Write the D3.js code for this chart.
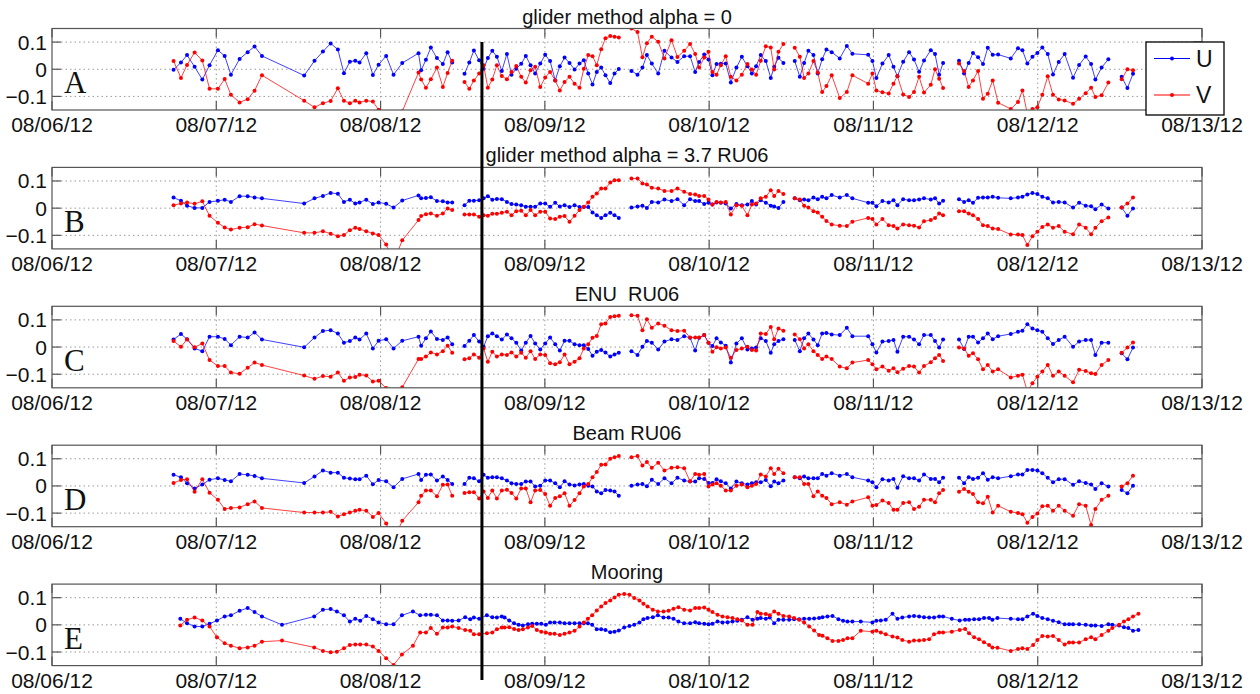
<!DOCTYPE html>
<html>
<head>
<meta charset="utf-8">
<script src="https://cdn.jsdelivr.net/npm/d3@7"></script>
<style>
  body { margin: 0; background: #fff; }
  text { font-family: "Liberation Sans", Arial, sans-serif; fill: #111; }
</style>
</head>
<body>
<div id="chart"></div>
<script>
// glider profile times, day of August 2012 (null = gap in the record)
var gliderDays = [
  6.740, 6.785, 6.822, 6.868, 6.915, 6.959, 7.010, 7.051, 7.089, 7.142, 7.191, 7.233, 7.278, 7.535, 7.598, 7.649, 7.696, 7.740,
  7.777, 7.813, 7.846, 7.872, 7.913, 7.953, 7.988, 8.034, 8.079, 8.132, 8.231, 8.247, 8.276, 8.306, 8.343, 8.379, 8.408, 8.436, null,
  8.511, 8.540, 8.568, 8.600, 8.627, 8.653, 8.680, 8.708, 8.738, 8.769, 8.797, 8.826, 8.856, 8.884, 8.913, 8.941, 8.972,
  9.002, 9.032, 9.063, 9.091, 9.120, 9.150, 9.181, 9.211, 9.237, 9.264, 9.290, 9.316, 9.343, 9.369, 9.398, 9.424, 9.450, null,
  9.527, 9.564, 9.594, 9.621, 9.651, 9.690, 9.728, 9.771, 9.807, 9.848, 9.884, 9.915, 9.939, 9.970, 9.996, 10.020,
  10.045, 10.071, 10.101, 10.132, 10.166, 10.199, 10.233, 10.260, 10.286, 10.314, 10.345, 10.375, 10.396, 10.422, 10.452, null,
  10.521, 10.552, 10.578, 10.604, 10.635, 10.661, 10.688, 10.714, 10.746, 10.795, 10.838, 10.872, 10.968, 10.994,
  11.018, 11.055, 11.093, 11.122, 11.146, 11.181, 11.217, 11.247, 11.278, 11.308, 11.349, 11.375, 11.400, 11.424, null,
  11.521, 11.552, 11.580, 11.606, 11.637, 11.667, 11.696, 11.726, 11.759, 11.836, 11.880, 11.907, 11.937, 11.968,
  11.998, 12.028, 12.061, 12.093, 12.128, 12.164, 12.215, 12.252, 12.292, 12.325, 12.351, 12.389, 12.430, null,
  12.511, 12.546, 12.580
];

var uAlpha0 = [
  -0.002, 0.025, 0.052, 0.009, -0.038, 0.015, 0.070, 0.049, -0.020, 0.038, 0.063, 0.084, 0.049, -0.023, 0.031, 0.065, 0.095, 0.073,
  -0.015, 0.028, 0.031, 0.025, 0.059, -0.021, 0.017, 0.049, -0.020, 0.023, 0.059, -0.004, 0.035, 0.080, 0.041, 0.019, 0.063, 0.025, null,
  -0.017, 0.025, 0.069, 0.033, 0.002, 0.041, 0.068, 0.046, -0.006, 0.056, -0.020, 0.002, 0.020, 0.049, 0.015, -0.016, 0.021,
  0.053, 0.030, -0.041, 0.011, 0.043, 0.023, -0.001, 0.021, 0.033, -0.016, -0.056, -0.010, 0.006, -0.022, -0.051, -0.016, 0.001, null,
  -0.006, -0.020, 0.006, 0.052, 0.021, -0.016, 0.068, 0.043, 0.027, 0.048, 0.048, -0.010, 0.027, 0.054, 0.036, -0.022,
  0.019, 0.020, 0.021, -0.049, 0.006, 0.046, 0.011, -0.016, 0.011, 0.052, 0.030, -0.032, 0.009, 0.042, 0.023, null,
  0.030, -0.028, 0.023, 0.068, 0.052, -0.016, 0.037, 0.073, 0.063, 0.040, 0.086, 0.057, 0.053, 0.030,
  -0.032, 0.021, 0.052, 0.009, -0.026, 0.028, 0.063, 0.036, -0.009, 0.032, 0.070, 0.056, -0.020, 0.023, null,
  0.031, -0.016, 0.023, 0.060, 0.044, 0.019, 0.079, 0.053, 0.054, 0.040, 0.077, 0.070, 0.021, 0.046,
  0.060, 0.080, 0.056, -0.019, 0.027, 0.056, -0.031, 0.016, 0.047, 0.019, -0.038, 0.006, 0.037, null,
  -0.028, -0.069, -0.017
];
var vAlpha0 = [
  0.030, -0.032, 0.016, 0.062, 0.032, -0.072, -0.072, -0.036, -0.094, -0.122, -0.110, -0.079, -0.022, -0.116, -0.140, -0.125, -0.117, -0.070,
  -0.116, -0.125, -0.116, -0.122, -0.116, -0.119, -0.149, -0.300, -0.300, -0.155, -0.012, -0.038, -0.068, -0.037, 0.006, -0.065, -0.014, 0.031, null,
  -0.047, -0.072, -0.041, -0.016, 0.015, -0.068, -0.038, 0.015, -0.025, -0.037, -0.010, 0.012, -0.028, -0.049, -0.004, 0.009, -0.065,
  -0.030, -0.010, -0.041, -0.078, -0.047, -0.028, -0.053, -0.068, 0.002, 0.052, 0.048, 0.015, 0.074, 0.114, 0.122, 0.120, 0.117, null,
  0.150, 0.137, 0.044, 0.096, 0.120, 0.101, 0.040, 0.107, 0.045, 0.068, 0.093, 0.056, 0.006, 0.043, 0.064, -0.010,
  -0.020, 0.015, 0.048, -0.028, -0.041, -0.020, 0.019, -0.001, -0.020, 0.031, 0.085, 0.080, -0.001, 0.064, 0.093, null,
  0.079, 0.046, -0.032, -0.016, 0.030, -0.012, -0.084, -0.062, -0.022, -0.106, -0.084, -0.022, -0.053, -0.016,
  -0.078, -0.085, -0.089, -0.053, -0.025, -0.093, -0.102, -0.084, -0.028, -0.086, -0.057, 0.000, -0.035, -0.069, null,
  0.021, -0.006, -0.065, -0.041, -0.006, -0.109, -0.090, -0.041, -0.123, -0.146, -0.121, -0.078, -0.164, -0.146,
  -0.140, -0.094, -0.026, -0.094, -0.111, -0.115, -0.127, -0.109, -0.088, -0.068, -0.102, -0.096, -0.049, null,
  -0.037, 0.000, -0.004
];

var uAlpha37 = [
  0.039, 0.027, 0.009, 0.001, 0.001, 0.023, 0.027, 0.031, 0.023, 0.044, 0.044, 0.039, 0.036, 0.017, 0.036, 0.045, 0.056, 0.053,
  0.023, 0.031, 0.017, 0.021, 0.031, 0.015, 0.021, 0.016, 0.002, 0.028, 0.047, 0.036, 0.037, 0.040, 0.026, 0.025, 0.021, 0.021, null,
  0.011, 0.027, 0.027, 0.029, 0.036, 0.044, 0.031, 0.034, 0.033, 0.023, 0.015, 0.013, 0.011, 0.005, 0.005, 0.005, 0.017,
  0.017, 0.005, 0.020, 0.006, 0.011, 0.004, 0.011, 0.004, 0.004, 0.004, -0.016, -0.026, -0.036, -0.026, -0.017, -0.026, -0.036, null,
  0.002, 0.006, 0.009, 0.001, 0.023, 0.021, 0.032, 0.026, 0.033, 0.011, 0.033, 0.026, 0.026, 0.015, 0.020, 0.013,
  0.021, 0.020, 0.017, -0.001, 0.015, 0.011, 0.013, 0.026, 0.013, 0.029, 0.020, 0.009, 0.006, 0.001, 0.023, null,
  0.036, 0.029, 0.032, 0.029, 0.039, 0.033, 0.042, 0.036, 0.048, 0.039, 0.048, 0.036, 0.020, 0.020,
  0.007, 0.026, 0.021, 0.029, 0.011, 0.033, 0.029, 0.029, 0.032, 0.036, 0.032, 0.036, 0.017, 0.027, null,
  0.033, 0.023, 0.029, 0.020, 0.038, 0.039, 0.039, 0.042, 0.038, 0.036, 0.039, 0.042, 0.050, 0.056,
  0.052, 0.042, 0.036, 0.021, 0.023, 0.021, 0.002, 0.020, 0.009, 0.007, -0.004, 0.013, -0.001, null,
  0.002, -0.028, -0.001
];
var vAlpha37 = [
  0.011, 0.017, 0.021, 0.016, 0.025, -0.028, -0.054, -0.071, -0.079, -0.072, -0.070, -0.059, -0.064, -0.091, -0.091, -0.085, -0.094, -0.103,
  -0.099, -0.081, -0.072, -0.077, -0.085, -0.093, -0.099, -0.134, -0.200, -0.118, -0.044, -0.029, -0.022, -0.020, -0.028, -0.020, -0.001, -0.007, null,
  -0.023, -0.023, -0.023, -0.032, -0.026, -0.028, -0.021, -0.021, -0.017, -0.013, -0.026, -0.011, -0.010, -0.026, -0.007, -0.026, -0.013,
  -0.013, -0.038, -0.040, -0.032, -0.029, -0.050, -0.028, -0.007, 0.005, 0.021, 0.042, 0.054, 0.072, 0.072, 0.094, 0.103, 0.103, null,
  0.109, 0.109, 0.091, 0.087, 0.075, 0.072, 0.063, 0.063, 0.072, 0.060, 0.052, 0.050, 0.045, 0.045, 0.032, 0.013,
  0.023, 0.021, 0.023, -0.023, 0.011, 0.009, -0.026, 0.013, 0.017, 0.036, 0.042, 0.066, 0.045, 0.063, 0.052, null,
  0.036, 0.032, 0.009, 0.002, -0.011, -0.016, -0.032, -0.047, -0.060, -0.065, -0.066, -0.050, -0.036, -0.040,
  -0.060, -0.040, -0.063, -0.066, -0.075, -0.060, -0.063, -0.065, -0.071, -0.048, -0.044, -0.036, -0.020, -0.026, null,
  -0.011, -0.011, -0.020, -0.026, -0.040, -0.063, -0.066, -0.075, -0.077, -0.097, -0.097, -0.099, -0.136, -0.103,
  -0.087, -0.069, -0.060, -0.072, -0.066, -0.087, -0.096, -0.060, -0.072, -0.096, -0.072, -0.048, -0.034, null,
  0.002, 0.017, 0.039
];

var uEnu = [
  0.028, 0.048, 0.029, -0.005, -0.015, 0.038, 0.038, 0.030, 0.007, 0.038, 0.035, 0.054, 0.028, -0.001, 0.035, 0.059, 0.062, 0.050,
  0.016, 0.022, 0.035, 0.028, 0.050, -0.005, 0.023, 0.029, -0.005, 0.023, 0.038, 0.005, 0.032, 0.057, 0.030, 0.026, 0.035, 0.010, null,
  0.004, 0.023, 0.044, 0.020, 0.001, 0.040, 0.050, 0.040, 0.028, 0.046, 0.032, 0.016, -0.013, 0.016, 0.041, 0.013, -0.009,
  0.013, 0.035, 0.010, -0.013, 0.023, 0.023, 0.010, 0.007, 0.007, -0.007, -0.032, -0.017, -0.011, -0.020, -0.035, -0.027, -0.021, null,
  -0.015, -0.029, 0.001, 0.022, 0.016, -0.009, 0.020, 0.029, 0.026, 0.040, 0.034, -0.013, 0.034, 0.044, 0.016, 0.004,
  0.032, 0.017, 0.005, -0.057, 0.013, 0.032, -0.009, -0.005, -0.002, 0.032, 0.022, -0.021, 0.010, 0.022, 0.029, null,
  0.026, -0.015, 0.032, 0.050, 0.028, 0.007, 0.050, 0.052, 0.046, 0.044, 0.071, 0.040, 0.040, 0.010,
  -0.020, 0.020, 0.022, 0.026, -0.017, 0.038, 0.038, 0.028, 0.010, 0.044, 0.044, 0.022, -0.002, 0.028, null,
  0.028, -0.007, 0.038, 0.038, 0.017, 0.032, 0.050, 0.029, 0.040, 0.048, 0.056, 0.060, 0.084, 0.068,
  0.062, 0.056, 0.032, 0.011, 0.026, 0.038, 0.001, 0.020, 0.026, 0.026, -0.029, 0.016, 0.016, null,
  -0.023, -0.045, -0.002
];
var vEnu = [
  0.022, 0.001, 0.028, -0.001, 0.013, -0.048, -0.070, -0.070, -0.094, -0.098, -0.076, -0.057, -0.066, -0.105, -0.117, -0.107, -0.109, -0.094,
  -0.124, -0.112, -0.110, -0.102, -0.105, -0.127, -0.124, -0.151, -0.220, -0.148, -0.044, -0.044, -0.035, -0.020, -0.027, -0.015, 0.005, -0.021, null,
  -0.045, -0.041, -0.027, -0.039, -0.005, -0.054, -0.017, -0.035, -0.027, -0.029, -0.020, -0.035, -0.021, -0.039, -0.015, -0.044, -0.027,
  -0.029, -0.060, -0.063, -0.056, -0.027, -0.063, -0.054, -0.041, -0.005, 0.010, 0.034, 0.041, 0.084, 0.087, 0.111, 0.113, 0.115, null,
  0.117, 0.115, 0.062, 0.102, 0.071, 0.087, 0.078, 0.062, 0.059, 0.060, 0.035, 0.035, 0.035, 0.044, 0.016, -0.017,
  -0.001, -0.005, -0.002, -0.039, -0.011, -0.005, 0.001, -0.011, -0.013, 0.050, 0.048, 0.074, 0.029, 0.068, 0.060, null,
  0.046, 0.029, -0.005, 0.010, -0.015, -0.029, -0.044, -0.035, -0.044, -0.072, -0.078, -0.057, -0.048, -0.063,
  -0.082, -0.072, -0.087, -0.078, -0.093, -0.080, -0.070, -0.072, -0.094, -0.070, -0.056, -0.041, -0.029, -0.051, null,
  -0.002, -0.005, -0.032, -0.023, -0.045, -0.082, -0.066, -0.090, -0.082, -0.112, -0.106, -0.102, -0.163, -0.133,
  -0.109, -0.090, -0.066, -0.106, -0.090, -0.106, -0.130, -0.084, -0.088, -0.096, -0.099, -0.066, -0.048, null,
  -0.021, -0.002, 0.017
];

var uBeam = [
  0.041, 0.032, 0.010, -0.009, 0.005, 0.023, 0.028, 0.022, 0.017, 0.044, 0.041, 0.037, 0.028, 0.011, 0.035, 0.057, 0.049, 0.049,
  0.030, 0.027, 0.025, 0.025, 0.038, 0.006, 0.022, 0.017, -0.005, 0.026, 0.044, 0.022, 0.041, 0.042, 0.020, 0.035, 0.022, 0.007, null,
  0.007, 0.030, 0.028, 0.017, 0.041, 0.030, 0.032, 0.032, 0.028, 0.020, 0.010, 0.007, 0.007, 0.016, 0.016, -0.002, 0.001,
  0.020, 0.020, 0.010, -0.005, 0.017, 0.005, 0.002, 0.005, 0.007, 0.001, -0.002, -0.020, -0.027, -0.015, -0.017, -0.020, -0.036, null,
  0.001, 0.005, 0.007, -0.001, 0.023, 0.007, 0.028, 0.010, 0.030, 0.020, 0.016, 0.016, 0.028, 0.026, 0.011, 0.011,
  0.025, 0.017, 0.010, -0.009, 0.016, 0.010, 0.005, 0.010, 0.014, 0.014, 0.022, -0.001, 0.016, 0.010, 0.020, null,
  0.032, 0.028, 0.035, 0.028, 0.028, 0.028, 0.044, 0.038, 0.047, 0.038, 0.044, 0.032, 0.020, 0.014,
  -0.005, 0.025, 0.020, 0.026, -0.007, 0.036, 0.028, 0.028, 0.020, 0.042, 0.026, 0.026, 0.014, 0.030, null,
  0.030, 0.010, 0.032, 0.026, 0.030, 0.047, 0.023, 0.032, 0.028, 0.036, 0.042, 0.042, 0.059, 0.059,
  0.057, 0.047, 0.030, 0.014, 0.025, 0.025, 0.004, 0.017, 0.011, 0.005, -0.011, 0.010, -0.002, null,
  -0.015, -0.027, 0.001
];
var vBeam = [
  0.011, 0.022, 0.025, -0.021, 0.025, -0.025, -0.051, -0.085, -0.081, -0.079, -0.067, -0.057, -0.081, -0.098, -0.098, -0.098, -0.095, -0.112,
  -0.104, -0.098, -0.091, -0.088, -0.091, -0.114, -0.100, -0.138, -0.200, -0.128, -0.060, -0.036, -0.017, -0.017, -0.038, 0.004, 0.005, -0.036, null,
  -0.026, -0.023, -0.023, -0.046, -0.020, -0.044, -0.017, -0.046, -0.017, -0.014, -0.026, -0.046, -0.009, -0.009, -0.060, -0.017, -0.015,
  -0.030, -0.073, -0.044, -0.038, -0.027, -0.073, -0.052, -0.027, -0.002, 0.007, 0.032, 0.051, 0.078, 0.079, 0.100, 0.106, 0.110, null,
  0.106, 0.110, 0.075, 0.088, 0.067, 0.085, 0.057, 0.067, 0.069, 0.065, 0.017, 0.044, 0.041, 0.044, -0.002, 0.005,
  0.010, 0.001, -0.017, -0.017, 0.001, 0.005, -0.005, 0.001, 0.007, 0.042, 0.035, 0.065, 0.044, 0.063, 0.047, null,
  0.032, 0.032, 0.007, 0.007, -0.038, -0.020, -0.036, -0.044, -0.067, -0.060, -0.069, -0.057, -0.042, -0.073,
  -0.070, -0.054, -0.063, -0.088, -0.088, -0.063, -0.060, -0.085, -0.077, -0.051, -0.051, -0.060, -0.027, -0.015, null,
  -0.021, -0.011, -0.021, -0.030, -0.060, -0.064, -0.040, -0.098, -0.073, -0.095, -0.100, -0.104, -0.135, -0.114,
  -0.101, -0.075, -0.073, -0.091, -0.073, -0.091, -0.110, -0.067, -0.073, -0.144, -0.085, -0.051, -0.036, null,
  -0.002, 0.010, 0.038
];

// mooring record times, day of August 2012
var mooringDays = [
  6.781, 6.822, 6.868, 6.915, 6.959, 7.004, 7.051, 7.089, 7.142, 7.191, 7.233, 7.278, 7.400,
  7.596, 7.649, 7.696, 7.734, 7.777, 7.813, 7.846, 7.876, 7.913, 7.953, 7.988, 8.034, 8.079,
  8.130, 8.197, 8.241, 8.276, 8.306, 8.343, 8.379, 8.408, 8.436, 8.475,
  8.515, 8.546, 8.568, 8.600, 8.647, 8.680, 8.708, 8.738, 8.755, 8.783,
  8.813, 8.840, 8.866, 8.897, 8.923, 8.951, 8.978, 9.006, 9.032, 9.059,
  9.091, 9.120, 9.150, 9.181, 9.211, 9.237, 9.262, 9.288, 9.316, 9.343,
  9.369, 9.398, 9.424, 9.450, 9.483, 9.515, 9.544, 9.576, 9.600, 9.625,
  9.657, 9.688, 9.722, 9.753, 9.783, 9.813,
  9.848, 9.884, 9.915, 9.939, 9.970, 9.996, 10.020, 10.051, 10.081, 10.112,
  10.142, 10.172, 10.199, 10.233, 10.264, 10.294, 10.314, 10.345, 10.369, 10.396,
  10.422, 10.452, 10.487, 10.517, 10.548, 10.578, 10.609, 10.639, 10.669, 10.690,
  10.720, 10.751, 10.787, 10.815, 10.842, 10.872, 10.923, 10.994, 11.018, 11.045,
  11.075, 11.116, 11.146, 11.176, 11.217, 11.247, 11.278, 11.308, 11.339, 11.369,
  11.400, 11.424, 11.477, 11.525, 11.558, 11.582, 11.613, 11.643, 11.673, 11.704,
  11.724, 11.755, 11.836, 11.880, 11.907, 11.937, 11.972, 11.998, 12.028, 12.061,
  12.093, 12.128, 12.164, 12.191, 12.215, 12.252, 12.292, 12.325, 12.351, 12.389,
  12.430, 12.454, 12.495, 12.525, 12.552, 12.580, 12.613
];
var uMooring = [
  0.022, 0.006, -0.006, -0.006, 0.004, 0.016, 0.031, 0.035, 0.052, 0.062, 0.047, 0.031, 0.000,
  0.031, 0.056, 0.058, 0.049, 0.035, 0.012, 0.022, 0.015, 0.033, 0.021, 0.009, 0.002, 0.002,
  0.035, 0.049, 0.035, 0.037, 0.037, 0.035, 0.016, 0.016, 0.015, 0.016,
  0.028, 0.021, 0.027, 0.022, 0.035, 0.028, 0.027, 0.031, 0.027, 0.016,
  0.006, 0.000, -0.002, 0.002, 0.004, 0.004, 0.004, 0.000, 0.009, 0.009,
  0.009, 0.006, 0.006, 0.006, 0.006, 0.006, 0.006, 0.000, -0.016, -0.016,
  -0.019, -0.027, -0.025, -0.021, -0.010, -0.004, 0.000, 0.009, 0.021, 0.025,
  0.028, 0.035, 0.027, 0.027, 0.022, 0.012,
  0.006, 0.006, 0.010, 0.006, 0.004, 0.002, 0.004, 0.012, 0.009, 0.010,
  0.012, 0.015, 0.019, 0.028, 0.019, 0.022, 0.025, 0.022, 0.027, 0.006,
  0.019, 0.019, 0.019, 0.021, 0.021, 0.022, 0.022, 0.023, 0.025, 0.028,
  0.031, 0.033, 0.021, 0.015, 0.012, 0.012, 0.012, 0.009, 0.015, 0.016,
  0.019, 0.041, 0.022, 0.027, 0.031, 0.033, 0.031, 0.028, 0.027, 0.027,
  0.031, 0.031, 0.022, 0.016, 0.019, 0.019, 0.021, 0.021, 0.025, 0.025,
  0.019, 0.025, 0.022, 0.021, 0.021, 0.031, 0.041, 0.033, 0.025, 0.021,
  0.015, 0.010, 0.002, 0.002, 0.002, 0.002, 0.000, -0.002, -0.002, -0.004,
  0.002, 0.000, -0.002, -0.009, -0.012, -0.022, -0.019
];
var vMooring = [
  -0.002, 0.019, 0.027, 0.016, -0.006, -0.046, -0.068, -0.077, -0.086, -0.083, -0.077, -0.062, -0.058,
  -0.083, -0.096, -0.101, -0.099, -0.086, -0.074, -0.072, -0.072, -0.072, -0.080, -0.096, -0.123, -0.148,
  -0.109, -0.077, -0.028, -0.028, -0.012, -0.033, -0.010, -0.010, -0.006, -0.012,
  -0.019, -0.022, -0.035, -0.035, -0.031, -0.028, -0.016, -0.010, -0.010, -0.009,
  -0.015, -0.019, -0.016, -0.010, -0.004, -0.019, -0.025, -0.028, -0.033, -0.033,
  -0.037, -0.033, -0.028, -0.022, -0.006, 0.009, 0.022, 0.035, 0.053, 0.068,
  0.080, 0.090, 0.101, 0.111, 0.114, 0.111, 0.099, 0.090, 0.078, 0.068,
  0.056, 0.049, 0.049, 0.052, 0.059, 0.065,
  0.056, 0.053, 0.062, 0.062, 0.064, 0.056, 0.047, 0.037, 0.031, 0.028,
  0.025, 0.021, 0.016, 0.000, 0.000, 0.047, 0.041, 0.040, 0.035, 0.049,
  0.041, 0.033, 0.031, 0.025, 0.019, 0.009, -0.006, -0.021, -0.037, -0.040,
  -0.049, -0.059, -0.059, -0.056, -0.049, -0.049, -0.022, -0.025, -0.022, -0.028,
  -0.035, -0.043, -0.047, -0.056, -0.062, -0.058, -0.058, -0.056, -0.053, -0.035,
  -0.028, -0.028, -0.025, -0.019, -0.015, -0.031, -0.046, -0.053, -0.064, -0.074,
  -0.083, -0.084, -0.096, -0.089, -0.086, -0.089, -0.074, -0.056, -0.041, -0.043,
  -0.041, -0.056, -0.072, -0.065, -0.065, -0.065, -0.053, -0.046, -0.053, -0.037,
  -0.022, -0.012, 0.000, 0.012, 0.021, 0.031, 0.041
];

var panelTitles = ["glider method alpha = 0", "glider method alpha = 3.7 RU06", "ENU  RU06", "Beam RU06", "Mooring"];
var panelLetters = ["A", "B", "C", "D", "E"];
var yTicks = [-0.1, 0, 0.1];
var seriesNames = ["U", "V"];
var markDay = 8.617;   // heavy vertical marker across all panels

var panels = [
  { days: gliderDays, u: uAlpha0, v: vAlpha0 },
  { days: gliderDays, u: uAlpha37, v: vAlpha37 },
  { days: gliderDays, u: uEnu, v: vEnu },
  { days: gliderDays, u: uBeam, v: vBeam },
  { days: mooringDays, u: uMooring, v: vMooring }
];

var W = 1260, H = 694;
var left = 52, right = 1202, firstTop = 28.5, panelStep = 138.9, panelH = 81.5;
var colors = { U: "#0000ff", V: "#ff0000" };

function toDate(d) {
  return new Date(new Date(2012, 7, 1).getTime() + (d - 1) * 864e5);
}

var svg = d3.select("#chart").append("svg")
  .attr("width", W).attr("height", H)
  .style("display", "block");

var x = d3.scaleTime()
  .domain([toDate(6), toDate(13)])
  .range([left, right]);
var xTicks = x.ticks(d3.timeDay.every(1));
var fmt = d3.timeFormat("%m/%d/%y");

panels.forEach(function(p, i) {
  var top = firstTop + i * panelStep;
  var bottom = top + panelH;
  var y = d3.scaleLinear().domain([-0.15, 0.15]).range([bottom, top]);
  var g = svg.append("g").attr("class", "panel");

  g.append("clipPath").attr("id", "clip" + i)
    .append("rect").attr("x", left).attr("y", top)
    .attr("width", right - left).attr("height", panelH);

  // dotted grid
  g.selectAll(".hgrid").data(yTicks).enter().append("line")
    .attr("x1", left).attr("x2", right)
    .attr("y1", function(d) { return y(d); }).attr("y2", function(d) { return y(d); })
    .attr("stroke", "#9a9a9a").attr("stroke-width", 1).attr("stroke-dasharray", "1.5,3");
  g.selectAll(".vgrid").data(xTicks.slice(1, -1)).enter().append("line")
    .attr("x1", function(d) { return x(d); }).attr("x2", function(d) { return x(d); })
    .attr("y1", top).attr("y2", bottom)
    .attr("stroke", "#9a9a9a").attr("stroke-width", 1).attr("stroke-dasharray", "1.5,3");

  // inward ticks
  xTicks.forEach(function(t) {
    g.append("line").attr("x1", x(t)).attr("x2", x(t)).attr("y1", bottom).attr("y2", bottom - 9)
      .attr("stroke", "#555").attr("stroke-width", 1.2);
    g.append("line").attr("x1", x(t)).attr("x2", x(t)).attr("y1", top).attr("y2", top + 9)
      .attr("stroke", "#555").attr("stroke-width", 1.2);
  });
  yTicks.forEach(function(t) {
    g.append("line").attr("x1", left).attr("x2", left + 9).attr("y1", y(t)).attr("y2", y(t))
      .attr("stroke", "#555").attr("stroke-width", 1.2);
    g.append("line").attr("x1", right).attr("x2", right - 9).attr("y1", y(t)).attr("y2", y(t))
      .attr("stroke", "#555").attr("stroke-width", 1.2);
  });

  // series
  seriesNames.forEach(function(name) {
    var vals = name === "U" ? p.u : p.v;
    var pts = p.days.map(function(d, k) {
      return { t: d == null ? null : toDate(d), v: vals[k] };
    });
    var line = d3.line()
      .defined(function(d) { return d.t != null && d.v != null; })
      .x(function(d) { return x(d.t); })
      .y(function(d) { return y(d.v); });
    var sg = g.append("g").attr("clip-path", "url(#clip" + i + ")");
    sg.append("path")
      .attr("d", line(pts))
      .attr("fill", "none")
      .attr("stroke", colors[name])
      .attr("stroke-opacity", 0.75)
      .attr("stroke-width", 1);
    sg.selectAll("circle")
      .data(pts.filter(function(d) { return d.t != null && d.v != null; }))
      .enter().append("circle")
      .attr("cx", function(d) { return x(d.t); })
      .attr("cy", function(d) { return y(d.v); })
      .attr("r", 2)
      .attr("fill", colors[name]);
  });

  // box
  g.append("rect").attr("x", left).attr("y", top)
    .attr("width", right - left).attr("height", panelH)
    .attr("fill", "none").attr("stroke", "#555").attr("stroke-width", 1.2);

  // labels
  g.selectAll(".xl").data(xTicks).enter().append("text")
    .attr("x", function(d) { return x(d); })
    .attr("y", bottom + 22)
    .attr("text-anchor", "middle")
    .style("font-size", "21px")
    .text(function(d) { return fmt(d); });
  g.selectAll(".yl").data(yTicks).enter().append("text")
    .attr("x", left - 5)
    .attr("y", function(d) { return y(d) + 7.5; })
    .attr("text-anchor", "end")
    .style("font-size", "21px")
    .text(function(d) { return d === 0 ? "0" : d3.format(".1f")(d); });

  g.append("text")
    .attr("x", (left + right) / 2).attr("y", top - 5)
    .attr("text-anchor", "middle")
    .style("font-size", "20px")
    .style("white-space", "pre")
    .attr("xml:space", "preserve")
    .text(panelTitles[i]);

  g.append("text")
    .attr("x", 64).attr("y", top + 64.5)
    .style("font-family", "'Liberation Serif', 'Times New Roman', serif")
    .style("font-size", "31px")
    .text(panelLetters[i]);
});

// legend in panel A
var legend = svg.append("g");
legend.append("rect").attr("x", 1146).attr("y", 42).attr("width", 78).attr("height", 73)
  .attr("fill", "#fff").attr("stroke", "#000").attr("stroke-width", 1.3);
seriesNames.forEach(function(name, k) {
  var ly = 58.5 + k * 36.5;
  legend.append("line").attr("x1", 1154).attr("x2", 1190).attr("y1", ly).attr("y2", ly)
    .attr("stroke", colors[name]).attr("stroke-width", 1);
  legend.append("circle").attr("cx", 1172).attr("cy", ly).attr("r", 2).attr("fill", colors[name]);
  legend.append("text").attr("x", 1196).attr("y", ly + 8)
    .style("font-size", "23px").text(name);
});

// vertical marker
svg.append("line")
  .attr("x1", x(toDate(markDay))).attr("x2", x(toDate(markDay)))
  .attr("y1", 42).attr("y2", 680)
  .attr("stroke", "#000").attr("stroke-width", 3);
</script>
</body>
</html>
